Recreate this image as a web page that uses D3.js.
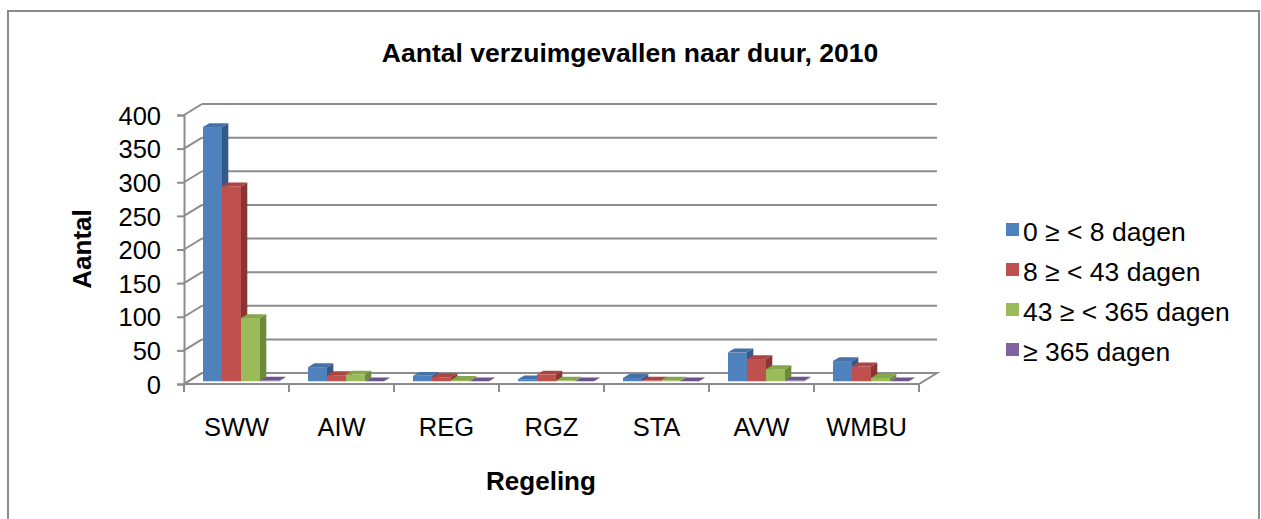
<!DOCTYPE html>
<html>
<head>
<meta charset="utf-8">
<script src="https://cdn.jsdelivr.net/npm/d3@7"></script>
<style>
  body { margin: 0; background: #fff; }
  svg { display: block; font-family: "Liberation Sans", Arial, sans-serif; }
</style>
</head>
<body>
<script>
// chart data
var categories = ["SWW", "AIW", "REG", "RGZ", "STA", "AVW", "WMBU"];
var seriesNames = ["0 \u2265 < 8 dagen", "8 \u2265 < 43 dagen", "43 \u2265 < 365 dagen", "\u2265 365 dagen"];
var days0to8 = [378, 21, 8, 3, 5, 43, 30];
var days8to43 = [290, 9, 6, 10, 1, 33, 22];
var days43to365 = [94, 10, 2, 1, 1, 18, 5];
var days365plus = [1, 0, 0, 0, 0, 1, 0];
var yTicks = [0, 50, 100, 150, 200, 250, 300, 350, 400];

var seriesValues = [days0to8, days8to43, days43to365, days365plus];
var frontColors = ["#4F81BD", "#C0504D", "#9BBB59", "#8064A2"];
var topColors = ["#4571A9", "#AB4542", "#86A64B", "#6C548D"];
var sideColors = ["#34598A", "#8A3532", "#6D8A3A", "#56437A"];

window.onload = drawChart();

function drawChart(){
    var width = 1261,
        height = 519;

    var svg = d3.select("body")
        .append("svg")
        .attr("width", width)
        .attr("height", height);

    // chart border (bottom edge falls outside the picture)
    svg.append("rect")
        .attr("x", 8).attr("y", 11)
        .attr("width", 1251).attr("height", 540)
        .attr("fill", "#fff")
        .attr("stroke", "#8a8a8a")
        .attr("stroke-width", 2);

    // front plot rectangle and depth offset of the 3d box
    var x0 = 184, x1 = 919,
        depthX = 18, depthY = -11;

    var x = d3.scaleBand()
        .domain(categories)
        .range([x0, x1]);

    var y = d3.scaleLinear()
        .domain([0, 400])
        .range([384, 115]);

    var grid = "#8c8c8c";

    // floor
    svg.append("path")
        .attr("d", "M" + x0 + "," + y(0) + "L" + x1 + "," + y(0) +
            "L" + (x1 + depthX) + "," + (y(0) + depthY) +
            "L" + (x0 + depthX) + "," + (y(0) + depthY) + "Z")
        .attr("fill", "#fff")
        .attr("stroke", grid)
        .attr("stroke-width", 2);

    // back wall gridlines and side wall diagonals
    yTicks.forEach(function(t){
        svg.append("line")
            .attr("x1", x0 + depthX).attr("x2", x1 + depthX)
            .attr("y1", y(t) + depthY).attr("y2", y(t) + depthY)
            .attr("stroke", grid).attr("stroke-width", 2);
        svg.append("line")
            .attr("x1", x0).attr("x2", x0 + depthX)
            .attr("y1", y(t)).attr("y2", y(t) + depthY)
            .attr("stroke", grid).attr("stroke-width", 2);
    });

    // y axis
    var yAxis = d3.axisLeft(y)
        .tickValues(yTicks)
        .tickSize(7)
        .tickPadding(16);
    var gy = svg.append("g")
        .attr("transform", "translate(" + x0 + ",0)")
        .call(yAxis);
    gy.select(".domain").attr("stroke", grid).attr("stroke-width", 2);
    gy.selectAll(".tick line").attr("stroke", grid).attr("stroke-width", 2);
    gy.selectAll(".tick text")
        .attr("font-size", 25.5)
        .attr("font-family", "Liberation Sans, Arial, sans-serif")
        .attr("fill", "#000")
        .attr("dy", "0.36em");

    // x axis ticks on front edge of floor
    var xTickPos = categories.map(function(c){ return x(c); }).concat([x1]);
    svg.selectAll(".xtick")
        .data(xTickPos)
        .enter()
        .append("line")
        .attr("x1", function(d){ return d; })
        .attr("x2", function(d){ return d; })
        .attr("y1", y(0)).attr("y2", y(0) + 8)
        .attr("stroke", grid).attr("stroke-width", 2);

    svg.selectAll(".xlabel")
        .data(categories)
        .enter()
        .append("text")
        .attr("x", function(d){ return x(d) + x.bandwidth() / 2; })
        .attr("y", 427)
        .attr("dy", "0.36em")
        .attr("text-anchor", "middle")
        .attr("font-size", 25.5)
        .text(function(d){ return d; });

    // bars
    var barW = 19,
        z0 = 0.25, z1 = 0.6;
    var groupW = barW * seriesValues.length;
    var bars = svg.append("g");

    categories.forEach(function(cat, ci){
        seriesValues.forEach(function(vals, si){
            var v = vals[ci];
            var bx = x(cat) + (x.bandwidth() - groupW) / 2 + si * barW;
            var fx = bx + z0 * depthX, fy = z0 * depthY;
            var bkx = bx + z1 * depthX, bky = z1 * depthY;
            var yb = y(0), yt = y(v);

            // right side face
            bars.append("path")
                .attr("d", "M" + (fx + barW) + "," + (yb + fy) +
                    "L" + (fx + barW) + "," + (yt + fy) +
                    "L" + (bkx + barW) + "," + (yt + bky) +
                    "L" + (bkx + barW) + "," + (yb + bky) + "Z")
                .attr("fill", sideColors[si]);
            // top face
            bars.append("path")
                .attr("d", "M" + fx + "," + (yt + fy) +
                    "L" + (fx + barW) + "," + (yt + fy) +
                    "L" + (bkx + barW) + "," + (yt + bky) +
                    "L" + bkx + "," + (yt + bky) + "Z")
                .attr("fill", topColors[si]);
            // front face
            bars.append("rect")
                .attr("x", fx)
                .attr("y", yt + fy)
                .attr("width", barW)
                .attr("height", yb - yt)
                .attr("fill", frontColors[si]);
        });
    });

    // title
    svg.append("text")
        .attr("x", 630).attr("y", 52)
        .attr("dy", "0.36em")
        .attr("text-anchor", "middle")
        .attr("font-size", 26.5)
        .attr("font-weight", "bold")
        .text("Aantal verzuimgevallen naar duur, 2010");

    // axis titles
    svg.append("text")
        .attr("transform", "translate(82,249) rotate(-90)")
        .attr("dy", "0.36em")
        .attr("text-anchor", "middle")
        .attr("font-size", 26)
        .attr("font-weight", "bold")
        .text("Aantal");

    svg.append("text")
        .attr("x", 541).attr("y", 481)
        .attr("dy", "0.36em")
        .attr("text-anchor", "middle")
        .attr("font-size", 26)
        .attr("font-weight", "bold")
        .text("Regeling");

    // legend
    var legend = svg.selectAll(".legend")
        .data(seriesNames)
        .enter()
        .append("g")
        .attr("transform", function(d, i){ return "translate(1006," + (231 + i * 40) + ")"; });

    legend.append("rect")
        .attr("x", 0).attr("y", -8)
        .attr("width", 13).attr("height", 13)
        .attr("fill", function(d, i){ return frontColors[i]; });

    legend.append("text")
        .attr("x", 17).attr("y", 0)
        .attr("dy", "0.36em")
        .attr("font-size", 26.5)
        .text(function(d){ return d; });
};
</script>
</body>
</html>
